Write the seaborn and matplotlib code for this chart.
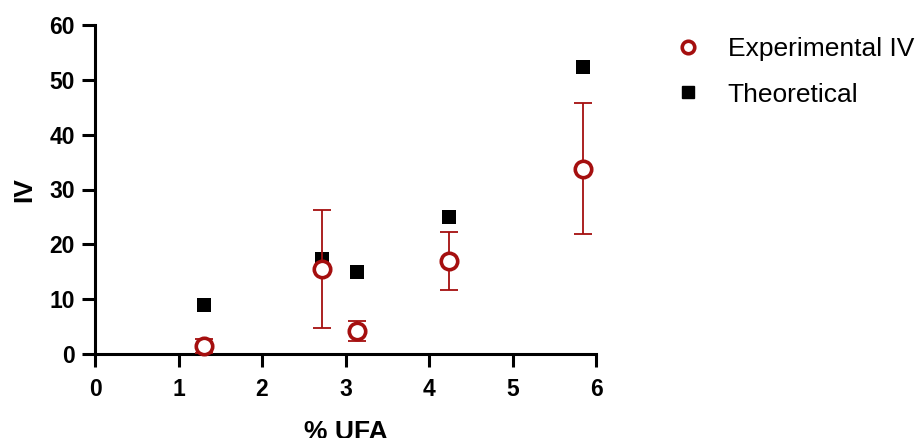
import matplotlib
matplotlib.use("Agg")
import matplotlib.pyplot as plt
import seaborn as sns
import pandas as pd
from matplotlib.lines import Line2D

# Data: % unsaturated fatty acids vs iodine value
ufa = [1.31, 2.72, 3.14, 4.24, 5.84]
iv_experimental = [1.4, 15.5, 4.2, 16.9, 33.8]
iv_experimental_err = [1.3, 10.8, 1.9, 5.3, 11.9]
iv_theoretical = [8.9, 17.3, 15.0, 25.0, 52.3]

x_ticks = [0, 1, 2, 3, 4, 5, 6]
y_ticks = [0, 10, 20, 30, 40, 50, 60]

red = "#A50F0F"

sns.set_theme(style="ticks")
plt.rcParams["font.family"] = ["Liberation Sans", "DejaVu Sans"]
for key in ("text.color", "axes.labelcolor", "xtick.color", "ytick.color",
            "axes.edgecolor"):
    plt.rcParams[key] = "black"

fig = plt.figure(figsize=(9.22, 4.38), dpi=100)
ax = fig.add_axes([95 / 922, 84 / 438, 501 / 922, 329 / 438])

df_theo = pd.DataFrame({"ufa": ufa, "iv": iv_theoretical})
df_exp = pd.DataFrame({"ufa": ufa, "iv": iv_experimental})

sns.scatterplot(data=df_theo, x="ufa", y="iv", marker="s", s=110,
                color="black", edgecolor="black", linewidth=0, ax=ax,
                zorder=3, legend=False, clip_on=False)
ax.errorbar(ufa, iv_experimental, yerr=iv_experimental_err, fmt="none",
            ecolor=red, elinewidth=1.3, capsize=6.5, capthick=1.3,
            zorder=4, clip_on=False)
sns.scatterplot(data=df_exp, x="ufa", y="iv", marker="o", s=140,
                facecolor="white", edgecolor=red, linewidth=2.6, ax=ax,
                zorder=5, legend=False, clip_on=False)

ax.set_xlim(0, 6)
ax.set_ylim(0, 60)
ax.set_xticks(x_ticks)
ax.set_yticks(y_ticks)
ax.set_xticklabels([str(t) for t in x_ticks], fontsize=16.5, fontweight="bold")
ax.set_yticklabels([str(t) for t in y_ticks], fontsize=16.5, fontweight="bold")
ax.tick_params(axis="both", width=2.2, length=9.5, color="black")
ax.tick_params(axis="x", pad=8)
ax.tick_params(axis="y", pad=5)
for side in ("left", "bottom"):
    ax.spines[side].set_linewidth(2.2)
    ax.spines[side].set_color("black")
sns.despine(ax=ax)

ax.set_xlabel("% UFA", fontsize=19, fontweight="bold")
ax.set_ylabel("IV", fontsize=19, fontweight="bold")
ax.xaxis.set_label_coords(0.5, -(66 / 329))
ax.yaxis.set_label_coords(-(59 / 501), 0.5)

handles = [
    Line2D([], [], marker="o", linestyle="none", markersize=9,
           markerfacecolor="white", markeredgecolor=red, markeredgewidth=2.6),
    Line2D([], [], marker="s", linestyle="none", markersize=9,
           markerfacecolor="black", markeredgecolor="black"),
]
fig.legend(handles, ["Experimental IV", "Theoretical"], loc="upper left",
           bbox_to_anchor=(675 / 922, 1 - 37 / 438), frameon=False,
           fontsize=19, handlelength=1.0, handletextpad=1.0,
           labelspacing=0.82, borderaxespad=0, borderpad=0)

fig.savefig("out.png", dpi=100)
